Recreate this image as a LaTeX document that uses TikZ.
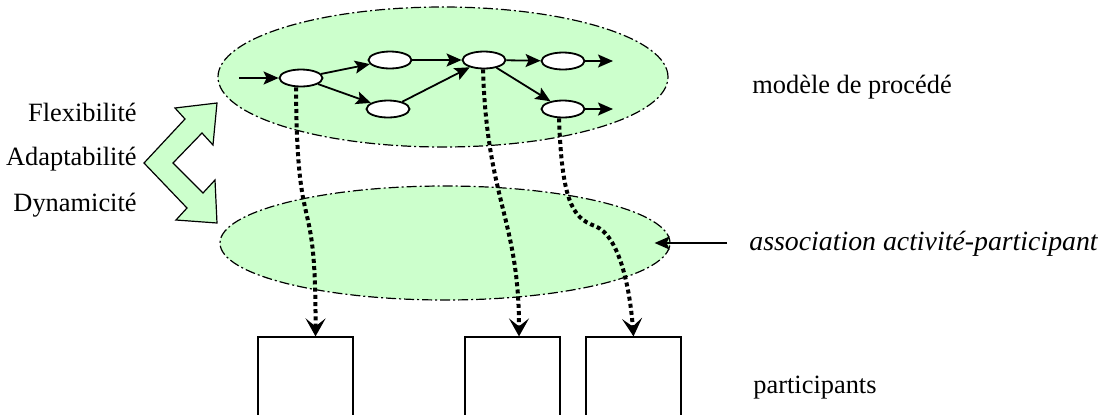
\documentclass[tikz,border=0pt]{standalone}
\usepackage{fontspec}
\setmainfont{Liberation Serif}
\usetikzlibrary{arrows.meta, shapes.geometric}
\definecolor{palegreen}{HTML}{CCFFCC}
\tikzset{
    zone/.style={ellipse, draw, fill=palegreen, line width=0.6pt, dash pattern=on 5pt off 1.5pt on 1pt off 1.5pt, inner sep=0pt},
    act/.style={ellipse, draw, fill=white, line width=0.9pt, minimum width=21.5pt, minimum height=8.5pt, inner sep=0pt},
    part/.style={rectangle, draw, line width=0.6pt, minimum width=47.5pt, minimum height=41.5pt, inner sep=0pt},
    flow/.style={-{Stealth[length=7.5pt, width=6.5pt, inset=1.5pt]}, line width=0.9pt},
    link/.style={-{Stealth[length=9pt, width=10pt, inset=4pt]}, line width=2pt, dash pattern=on 2pt off 1.6pt},
    lbl/.style={inner sep=0pt, font=\fontsize{13.2}{16}\selectfont},
}

\begin{document}
\begin{tikzpicture}[x=0.5pt, y=-0.5pt]
        \useasboundingbox (0,0) rectangle (1099,414);

        % the two levels
        \node[zone, minimum width=225pt, minimum height=70pt] at (443, 77)  (upper) {};
        \node[zone, minimum width=225pt, minimum height=57pt] at (445, 243) (lower) {};

        % double arrow on the left
        \draw [fill=palegreen, line width=0.6pt] (144,163) -- (185,119) -- (175,108) -- (217,103) -- (213,145) -- (202,133)
            -- (173,163) -- (203,193) -- (215,180) -- (217,223) -- (176,220) -- (187,208) -- cycle;

        % process model
        \node[act] at (301, 78)  (e1) {};
        \node[act] at (390, 60)  (e2) {};
        \node[act] at (388, 109) (e3) {};
        \node[act] at (484, 60)  (e4) {};
        \node[act] at (563, 61)  (e5) {};
        \node[act] at (563, 109) (e6) {};
        \coordinate (in)   at (239, 78);
        \coordinate (out5) at (613, 61);
        \coordinate (out6) at (613, 109);
        \draw [flow] (in) -- (e1);
        \draw [flow] (e1) -- (e2);
        \draw [flow] (e1) -- (e3);
        \draw [flow] (e2) -- (e4);
        \draw [flow] (e3) -- (e4);
        \draw [flow] (e4) -- (e5);
        \draw [flow] (e4) -- (e6);
        \draw [flow] (e5) -- (out5);
        \draw [flow] (e6) -- (out6);

        % participants
        \node[part] at (305.5, 378.5) (p1) {};
        \node[part] at (512.5, 378.5) (p2) {};
        \node[part] at (633.5, 378.5) (p3) {};

        % activity / participant links
        \draw [link] ([xshift=-2.5pt]e1.south) .. controls (297,250) and (316,180) .. ([xshift=5pt]p1.north);
        \draw [link] ([xshift=-0.5pt]e4.south) .. controls (487,200) and (519,220) .. ([xshift=3.25pt]p2.north);
        \draw [link] ([xshift=-2pt]e6.south) .. controls (562,200) and (572,218) .. (595,226)
            .. controls (620,236) and (630,290) .. (p3.north);

        % labels
        \node[lbl, anchor=base east] at (137, 121) (flex)  {Flexibilité};
        \node[lbl, anchor=base east] at (137, 165) (adapt) {Adaptabilité};
        \node[lbl, anchor=base east] at (137, 211) (dyn)   {Dynamicité};
        \node[lbl, anchor=base west] at (752, 93)  (model) {modèle de procédé};
        \node[lbl, anchor=base west, font=\fontsize{13.9}{16}\selectfont\itshape] at (749, 250) (assoc) {association activité-participant};
        \node[lbl, anchor=base west] at (753, 393) (parts) {participants};
        \coordinate (note) at (727, 243);
        \draw [flow] (note) -- ([xshift=-8pt]lower.east);
    \end{tikzpicture}
\end{document}
